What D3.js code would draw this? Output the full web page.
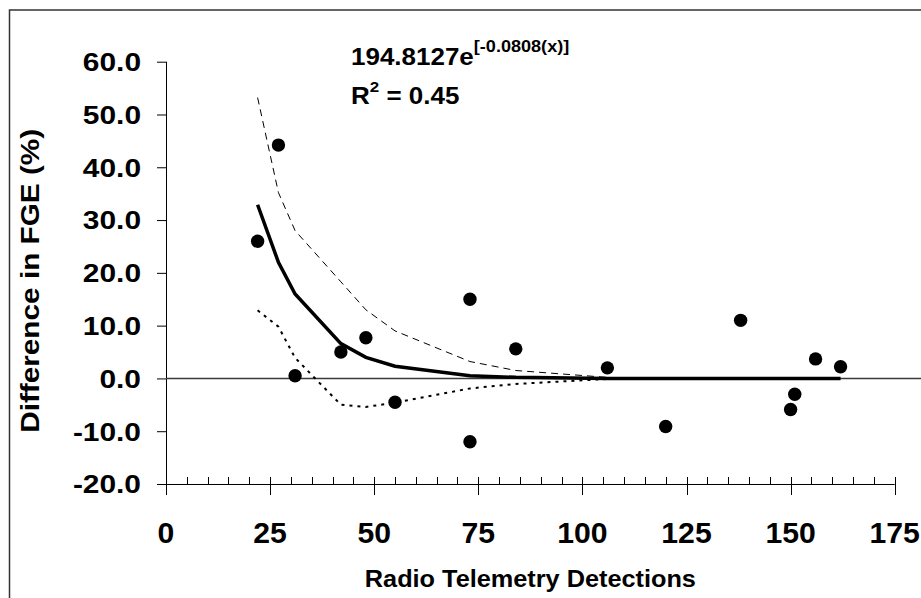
<!DOCTYPE html>
<html>
<head>
<meta charset="utf-8">
<script src="https://cdn.jsdelivr.net/npm/d3@7"></script>
<style>
  html, body { margin: 0; padding: 0; background: #fff; }
  svg { display: block; font-family: "Liberation Sans", Arial, sans-serif; font-weight: bold; }
</style>
</head>
<body>
<svg id="chart" width="921" height="598"></svg>
<script>
// ---- data ----
const detections = [22, 27, 31, 42, 48, 55, 73, 73, 84, 106, 120, 138, 150, 151, 156, 162];
const fgeDiff    = [26.0, 44.2, 0.5, 5.0, 7.7, -4.5, 15.0, -12.0, 5.6, 2.0, -9.1, 11.0, -5.9, -3.0, 3.7, 2.2];

const fitX   = [22, 27, 31, 42, 48, 55, 73, 84, 106, 120, 138, 150, 151, 156, 162];
const fitY   = [32.9, 22.0, 16.0, 6.6, 4.0, 2.3, 0.5, 0.2, 0.0, 0.0, 0.0, 0.0, 0.0, 0.0, 0.0];
const bandX  = [22, 27, 31, 42, 48, 55, 73, 84, 106];
const upperY = [53.2, 35.2, 28.0, 18.3, 13.0, 9.0, 3.2, 1.5, 0.2];
const lowerY = [12.9, 9.8, 3.9, -5.0, -5.4, -4.6, -1.9, -1.05, -0.1];

const xTicks = [0, 25, 50, 75, 100, 125, 150, 175];
const xMinorTicks = d3.range(0, 176, 5);
const yTicks = [60, 50, 40, 30, 20, 10, 0, -10, -20];

const xTitle = "Radio Telemetry Detections";
const yTitle = "Difference in FGE (%)";
const eqMain = "194.8127e";
const eqExp = "[-0.0808(x)]";
const r2Value = " = 0.45";

// ---- layout ----
const svg = d3.select("#chart");
const x = d3.scaleLinear().domain([0, 175]).range([166, 894.7]);
const y = d3.scaleLinear().domain([-20, 60]).range([484, 61.7]);

// frame
svg.append("rect").attr("x", 9.5).attr("y", 10).attr("width", 1000).attr("height", 1000)
  .attr("fill", "none").attr("stroke", "#333").attr("stroke-width", 1.5);

// y axis
const yAxis = svg.append("g").attr("transform", `translate(${x(0)},0)`)
  .call(d3.axisLeft(y).tickValues(yTicks).tickSize(9).tickFormat(""));
yAxis.select(".domain").attr("d", `M0.5,${y(60)}H0.5V${y(-20)}`).attr("stroke", "#000");
yAxis.selectAll(".tick line").attr("stroke", "#000");

// x axis: major ticks cross, minor ticks up
const xAxisG = svg.append("g").attr("transform", `translate(0,${y(-20)})`);
xAxisG.append("line").attr("x1", x(0)).attr("x2", x(175)).attr("y1", 0.5).attr("y2", 0.5)
  .attr("stroke", "#000").attr("stroke-width", 1);
xAxisG.selectAll("line.minor").data(xMinorTicks.filter(d => d % 25 !== 0)).join("line")
  .attr("class", "minor")
  .attr("x1", d => Math.round(x(d)) + 0.5).attr("x2", d => Math.round(x(d)) + 0.5)
  .attr("y1", -7).attr("y2", 0).attr("stroke", "#000");
xAxisG.selectAll("line.major").data(xTicks).join("line")
  .attr("class", "major")
  .attr("x1", d => Math.round(x(d)) + 0.5).attr("x2", d => Math.round(x(d)) + 0.5)
  .attr("y1", -7).attr("y2", 11).attr("stroke", "#000");

// tick labels
svg.append("g").selectAll("text").data(yTicks).join("text")
  .attr("transform", d => `translate(141,${y(d)}) scale(1.15,1)`)
  .attr("text-anchor", "end").attr("dy", "0.36em")
  .attr("font-size", 26).attr("fill", "#000")
  .text(d => d.toFixed(1));

svg.append("g").selectAll("text").data(xTicks).join("text")
  .attr("transform", d => `translate(${x(d)},542.5) scale(1.04,1)`)
  .attr("text-anchor", "middle")
  .attr("font-size", 29).attr("fill", "#000")
  .text(d => String(d));

// axis titles
svg.append("text")
  .attr("transform", `translate(${(x(0) + x(175)) / 2},586.5) scale(1.1,1)`)
  .attr("text-anchor", "middle").attr("font-size", 23).attr("fill", "#000")
  .text(xTitle);

svg.append("text")
  .attr("transform", `translate(38.5,${(128.3 + 433.3) / 2}) rotate(-90) scale(1.19,1)`)
  .attr("text-anchor", "middle").attr("font-size", 25).attr("fill", "#000")
  .text(yTitle);

// zero line
svg.append("line").attr("x1", x(0)).attr("x2", 921).attr("y1", y(0)).attr("y2", y(0))
  .attr("stroke", "#3a3a3a").attr("stroke-width", 1.6);

// band lines
const bandLine = (ys) => d3.line().x((d, i) => x(bandX[i])).y((d, i) => y(ys[i]))(ys);
svg.append("path").attr("d", bandLine(upperY))
  .attr("fill", "none").attr("stroke", "#000").attr("stroke-width", 1)
  .attr("stroke-dasharray", "7,5");
svg.append("path").attr("d", bandLine(lowerY))
  .attr("fill", "none").attr("stroke", "#000").attr("stroke-width", 2)
  .attr("stroke-dasharray", "3,5");

// fit line
svg.append("path")
  .attr("d", d3.line().x((d, i) => x(fitX[i])).y((d, i) => y(fitY[i]))(fitY))
  .attr("fill", "none").attr("stroke", "#000").attr("stroke-width", 3.5);

// points
svg.append("g").selectAll("circle").data(detections).join("circle")
  .attr("cx", d => x(d)).attr("cy", (d, i) => y(fgeDiff[i])).attr("r", 6.7)
  .attr("fill", "#000");

// equation annotation
const eq = svg.append("text")
  .attr("transform", "translate(351,65) scale(1.13,1)")
  .attr("font-size", 23).attr("fill", "#000");
eq.append("tspan").text(eqMain);
eq.append("tspan").attr("font-size", 16).attr("dy", -13.5).text(eqExp);

const r2 = svg.append("text")
  .attr("transform", "translate(351,104) scale(1.13,1)")
  .attr("font-size", 23).attr("fill", "#000");
r2.append("tspan").text("R");
r2.append("tspan").attr("font-size", 15).attr("dy", -12).text("2");
r2.append("tspan").attr("dy", 12).text(r2Value);
</script>
</body>
</html>
